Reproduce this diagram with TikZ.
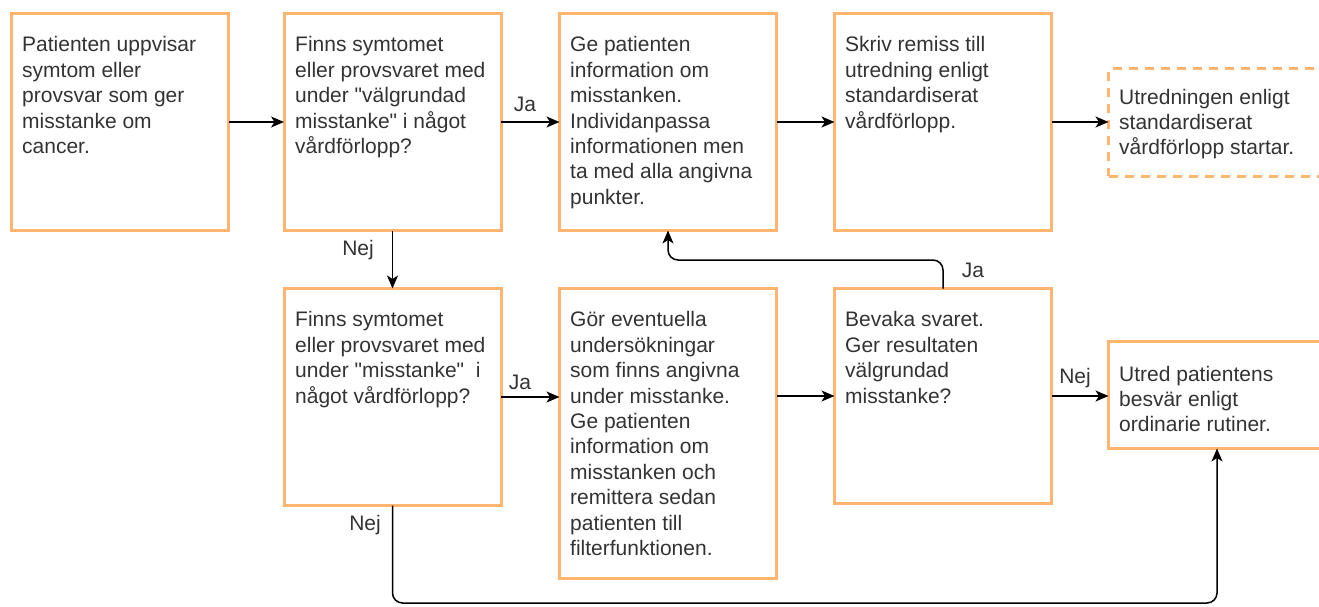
\documentclass[tikz,border=0pt]{standalone}
\usepackage{fontspec}
\newfontfamily\lsans{Liberation Sans}
\usetikzlibrary{arrows.meta}
\definecolor{boxorange}{HTML}{FFB570}
\definecolor{txtgray}{HTML}{333333}
\begin{document}
\begin{tikzpicture}[x=1pt,y=-1pt,
  box/.style={draw=boxorange, line width=3pt, fill=white, minimum width=217pt,
    inner sep=0pt, outer sep=0pt},
  dbox/.style={box, dash pattern=on 9pt off 7pt},
  txt/.style={font=\lsans\fontsize{21}{25.4}\selectfont, text=txtgray, align=left,
    inner sep=0pt, anchor=north west},
  ctxt/.style={txt, anchor=west},
  lbl/.style={font=\lsans\fontsize{21}{25.4}\selectfont, text=txtgray, inner sep=0pt},
  arr/.style={-{Stealth[length=13pt,width=11pt,inset=3.5pt]}, line width=1.5pt,
    black, rounded corners=10pt}]
\useasboundingbox (0,0) rectangle (1319,607);
\clip (0,0) rectangle (1319,607);
% boxes
\node[box, minimum height=217pt] (b1) at (120,122) {};
\node[box, minimum height=217pt] (b2) at (392.5,122) {};
\node[box, minimum height=217pt] (b3) at (668,122) {};
\node[box, minimum height=217pt] (b4) at (943,122) {};
\node[dbox, minimum height=107pt] (b5) at (1217,122.5) {};
\node[box, minimum height=217pt] (b6) at (392.5,397) {};
\node[box, minimum height=290pt] (b7) at (668,433.5) {};
\node[box, minimum height=215pt] (b8) at (943,396) {};
\node[box, minimum height=107pt] (b9) at (1217,395) {};
% texts
\node[txt] (t1) at (22,34) {\strut Patienten uppvisar\\symtom eller\\provsvar som ger\\misstanke om\\cancer.};
\node[txt] (t2) at (295,34) {\strut Finns symtomet\\eller provsvaret med\\under "välgrundad\\misstanke" i något\\vårdförlopp?};
\node[txt] (t3) at (570,34) {\strut Ge patienten\\information om\\misstanken.\\Individanpassa\\informationen men\\ta med alla angivna\\punkter.};
\node[txt] (t4) at (845,34) {\strut Skriv remiss till\\utredning enligt\\standardiserat\\vårdförlopp.};
\node[ctxt] (t5) at (1119,124) {Utredningen enligt\\standardiserat\\vårdförlopp startar.};
\node[txt] (t6) at (295,309) {\strut Finns symtomet\\eller provsvaret med\\under "misstanke"~ i\\något vårdförlopp?};
\node[txt] (t7) at (570,309) {\strut Gör eventuella\\undersökningar\\som finns angivna\\under misstanke.\\Ge patienten\\information om\\misstanken och\\remittera sedan\\patienten till\\filterfunktionen.};
\node[txt] (t8) at (845,309) {\strut Bevaka svaret.\\Ger resultaten\\välgrundad\\misstanke?};
\node[ctxt] (t9) at (1119,399) {Utred patientens\\besvär enligt\\ordinarie rutiner.};
% turning points
\coordinate (jaTurn) at (0,260);
\coordinate (nejTurn) at (0,603);
% connectors
\draw[arr] (b1.east) -- (b2.west);
\draw[arr] (b2.east) -- (b3.west);
\draw[arr] (b3.east) -- (b4.west);
\draw[arr] (b4.east) -- (b4.east -| b5.west);
\draw[arr] (b2.south) -- (b6.north);
\draw[arr] (b6.east) -- (b6.east -| b7.west);
\draw[arr] (b8.west -| b7.east) -- (b8.west);
\draw[arr] (b8.east) -- (b8.east -| b9.west);
\draw[arr] (b8.north) -- (b8.north |- jaTurn) -- (b3.south |- jaTurn) -- (b3.south);
\draw[arr] (b6.south) -- (b6.south |- nejTurn) -- (b9.south |- nejTurn) -- (b9.south);
% labels
\node[lbl] (l1) at (525,104) {Ja};
\node[lbl] (l2) at (358,250) {Nej};
\node[lbl] (l3) at (520,382) {Ja};
\node[lbl] (l4) at (973,270) {Ja};
\node[lbl] (l5) at (1075,378) {Nej};
\node[lbl] (l6) at (365,525) {Nej};
\end{tikzpicture}
\end{document}
